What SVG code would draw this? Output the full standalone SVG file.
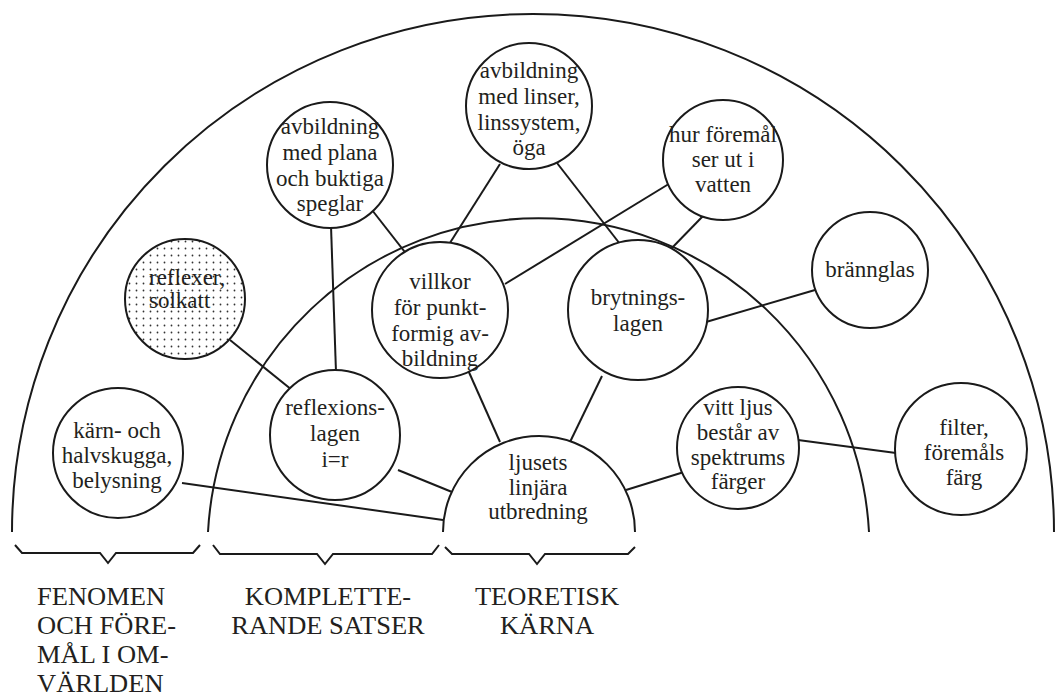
<svg xmlns="http://www.w3.org/2000/svg" width="1058" height="698" viewBox="0 0 1058 698">
<style>
.ln{fill:none;stroke:#1a1a1a;stroke-width:2}
.nd{fill:#fff;stroke:#1a1a1a;stroke-width:2}
.t{font-family:"Liberation Serif","Times New Roman",serif;font-size:23px;fill:#231f20;text-anchor:middle}
.tl{font-family:"Liberation Serif","Times New Roman",serif;font-size:23px;fill:#231f20}
.lb{font-family:"Liberation Serif","Times New Roman",serif;font-size:25px;fill:#231f20}
.c{text-anchor:middle}
</style>
<defs>
<pattern id="dots" width="7" height="7" patternUnits="userSpaceOnUse">
<rect width="7" height="7" fill="#fff"/>
<circle cx="3.5" cy="3.5" r="0.9" fill="#333"/>
</pattern>
</defs>
<g id="frame">
<path class="ln" d="M12,532 A521,518 0 0 1 1054,532"/>
<path class="ln" d="M208,532 A331,332 0 0 1 869,532"/>
<path class="ln" d="M15,545 L22,553 L100,553 L108,563 L116,553 L193,553 L200,545"/>
<path class="ln" d="M213,545 L220,554 L317,554 L325,564 L333,554 L432,554 L439,545"/>
<path class="ln" d="M445,547 L452,554 L529,554 L537,564 L545,554 L628,554 L635,547"/>
</g>
<g id="connectors">
<line class="ln" x1="182" y1="483" x2="443" y2="520"/>
<line class="ln" x1="398" y1="470" x2="452" y2="492"/>
<line class="ln" x1="331" y1="226" x2="336" y2="372"/>
<line class="ln" x1="230" y1="340" x2="292" y2="390"/>
<line class="ln" x1="372" y1="210" x2="408" y2="256"/>
<line class="ln" x1="468" y1="370" x2="500" y2="442"/>
<line class="ln" x1="602" y1="376" x2="570" y2="442"/>
<line class="ln" x1="500" y1="164" x2="448" y2="246"/>
<line class="ln" x1="557" y1="163" x2="620" y2="244"/>
<line class="ln" x1="672" y1="182" x2="505" y2="284"/>
<line class="ln" x1="703" y1="216" x2="668" y2="252"/>
<line class="ln" x1="706" y1="322" x2="815" y2="290"/>
<line class="ln" x1="626" y1="490" x2="684" y2="472"/>
<line class="ln" x1="798" y1="440" x2="896" y2="453"/>
</g>
<g id="n-linser"><circle class="nd" cx="529" cy="106" r="63"/>
<text class="t" x="529" y="78">avbildning</text><text class="t" x="529" y="104">med linser,</text><text class="t" x="529" y="130">linssystem,</text><text class="t" x="529" y="155">öga</text></g>
<g id="n-speglar"><circle class="nd" cx="330" cy="165" r="63"/>
<text class="t" x="330" y="134">avbildning</text><text class="t" x="330" y="160">med plana</text><text class="t" x="330" y="186">och buktiga</text><text class="t" x="330" y="211">speglar</text></g>
<g id="n-vatten"><circle class="nd" cx="723" cy="160" r="60"/>
<text class="t" x="723" y="142">hur föremål</text><text class="t" x="723" y="167">ser ut i</text><text class="t" x="723" y="192">vatten</text></g>
<g id="n-reflexer"><circle cx="185" cy="299" r="60" fill="url(#dots)" stroke="#1a1a1a" stroke-width="2"/>
<text class="tl" x="149" y="285">reflexer,</text><text class="tl" x="149" y="308">solkatt</text></g>
<g id="n-skugga"><circle class="nd" cx="118" cy="453" r="65"/>
<text class="t" x="117" y="438">kärn- och</text><text class="t" x="117" y="463">halvskugga,</text><text class="t" x="117" y="488">belysning</text></g>
<g id="n-reflexion"><circle class="nd" cx="335" cy="435" r="65"/>
<text class="t" x="335" y="415">reflexions-</text><text class="t" x="335" y="441">lagen</text><text class="t" x="335" y="467">i=r</text></g>
<g id="n-villkor"><circle class="nd" cx="440" cy="310" r="68"/>
<text class="t" x="440" y="289">villkor</text><text class="t" x="440" y="315">för punkt-</text><text class="t" x="440" y="341">formig av-</text><text class="t" x="440" y="366">bildning</text></g>
<g id="n-bryt"><circle class="nd" cx="638" cy="310" r="70"/>
<text class="t" x="638" y="305">brytnings-</text><text class="t" x="638" y="331">lagen</text></g>
<g id="n-bran"><circle class="nd" cx="870" cy="270" r="58"/>
<text class="t" x="870" y="277">brännglas</text></g>
<g id="n-vitt"><circle class="nd" cx="738" cy="448" r="61"/>
<text class="t" x="738" y="415">vitt ljus</text><text class="t" x="738" y="440">består av</text><text class="t" x="738" y="465">spektrums</text><text class="t" x="738" y="489">färger</text></g>
<g id="n-filter"><circle class="nd" cx="961" cy="449" r="66"/>
<text class="t" x="964" y="435">filter,</text><text class="t" x="964" y="460">föremåls</text><text class="t" x="964" y="485">färg</text></g>
<g id="n-ljus"><path class="nd" d="M443,532 A96,96 0 0 1 635,532"/>
<text class="t" x="538" y="470">ljusets</text><text class="t" x="538" y="495">linjära</text><text class="t" x="538" y="519">utbredning</text></g>
<g id="labels">
<g transform="translate(37,0) scale(1.06,1)">
<text class="lb" x="0" y="605">FENOMEN</text><text class="lb" x="0" y="634">OCH FÖRE-</text><text class="lb" x="0" y="663">MÅL I OM-</text><text class="lb" x="0" y="692">VÄRLDEN</text>
</g>
<g transform="translate(328,0) scale(1.06,1)">
<text class="lb c" x="0" y="605">KOMPLETTE-</text><text class="lb c" x="0" y="634">RANDE SATSER</text>
</g>
<g transform="translate(547,0) scale(1.06,1)">
<text class="lb c" x="0" y="605">TEORETISK</text><text class="lb c" x="0" y="634">KÄRNA</text>
</g>
</g>
</svg>
